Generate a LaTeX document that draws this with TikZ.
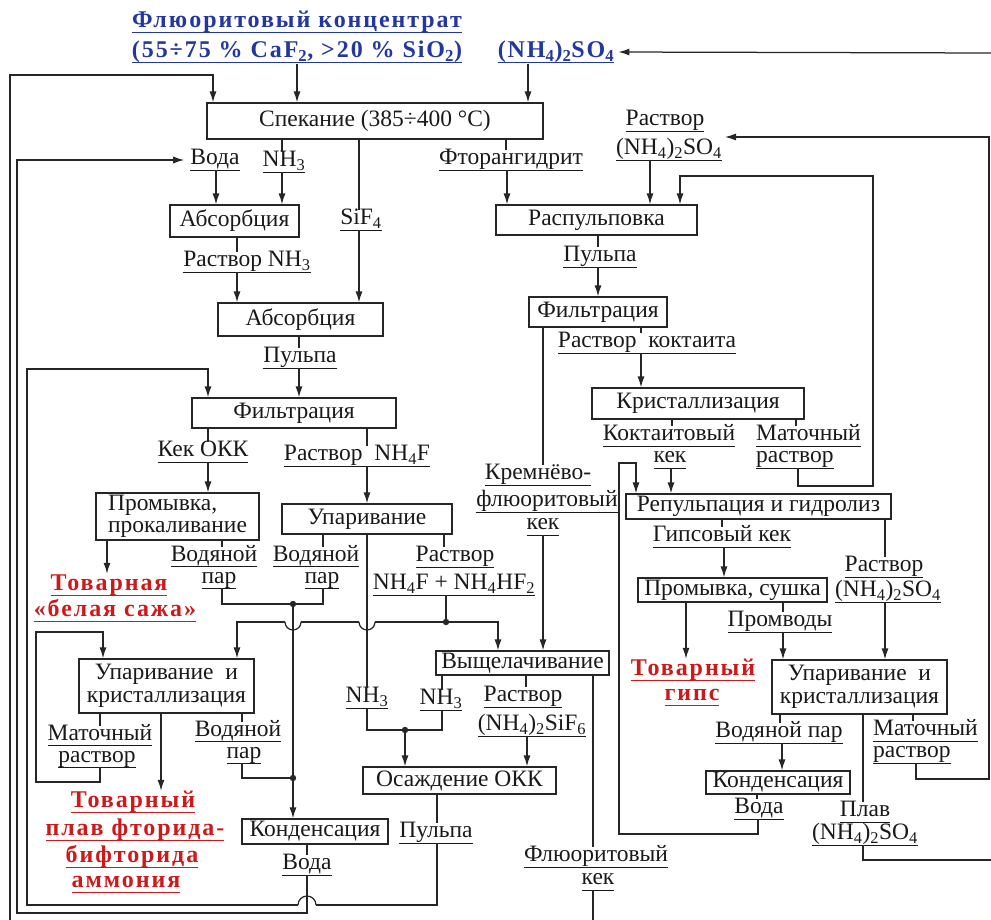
\documentclass[tikz,border=0pt]{standalone}
\usepackage{fontspec}
\setmainfont{Liberation Serif}
\usetikzlibrary{arrows.meta}
\newcommand\ssb[1]{\mbox{\textsubscript{#1}}}
\newsavebox\ulnbox
\newcommand\uline[1]{\sbox\ulnbox{#1}\leavevmode\rlap{\usebox\ulnbox}\rule[-6pt]{\wd\ulnbox}{1.1pt}}
\newcommand\fsz{\fontsize{23.5}{21}\selectfont}
\newcommand\bfsz{\fontsize{23.5}{22.5}\selectfont}
\newcommand\rfsz{\fontsize{24}{22}\selectfont\bfseries\addfontfeature{LetterSpace=8}}
\newcommand\tfsz{\fontsize{24}{22}\selectfont\bfseries\addfontfeature{LetterSpace=8}}
\definecolor{tred}{RGB}{205,25,25}
\definecolor{tblue}{RGB}{35,55,160}
\tikzset{
  box/.style={draw=black!85, line width=1.2pt, inner sep=0pt, font=\bfsz, text=black!90},
  lab/.style={inner sep=0pt, text height=14.5pt, text depth=5pt, font=\fsz, text=black!90},
  rlab/.style={inner sep=0pt, text height=16pt, text depth=6pt, font=\rfsz, text=tred},
  tlab/.style={inner sep=0pt, text height=17pt, text depth=6pt, font=\tfsz, text=tblue},
  ln/.style={draw=black!85, line width=1.25pt},
  arr/.style={ln, -{Latex[length=11pt,width=7pt]}},
  dotj/.style={fill=black!85}
}
\begin{document}
\begin{tikzpicture}[x=1pt,y=-1pt]
\useasboundingbox (0,0) rectangle (991,920);
% ---------- boxes ----------
\node[box,minimum width=336pt,minimum height=36pt] (spek) at (375,121) {Спекание (385÷400 °C)};
\node[box,minimum width=129pt,minimum height=32pt] (abs1) at (234.5,221) {Абсорбция};
\node[box,minimum width=165pt,minimum height=33pt] (abs2) at (300.5,319.5) {Абсорбция};
\node[box,minimum width=204pt,minimum height=30pt] (filtL) at (294,413) {Фильтрация};
\node[box,minimum width=163pt,minimum height=47pt,align=left] (prom) at (177.5,516.5) {Промывка,\\прокаливание};
\node[box,minimum width=170pt,minimum height=30pt] (upar) at (367,519) {Упаривание};
\node[box,minimum width=175pt,minimum height=54pt,align=center] (upkrL) at (166.5,686) {Упаривание\ \ и\\кристаллизация};
\node[box,minimum width=146pt,minimum height=25pt] (kondL) at (315,831.5) {Конденсация};
\node[box,minimum width=193pt,minimum height=27pt] (osazh) at (459.5,780.5) {Осаждение ОКК};
\node[box,minimum width=173pt,minimum height=24pt] (vysh) at (522.5,663) {Выщелачивание};
\node[box,minimum width=201pt,minimum height=30pt] (raspul) at (596.5,220) {Распульповка};
\node[box,minimum width=138pt,minimum height=30pt] (filtR) at (598,312) {Фильтрация};
\node[box,minimum width=212pt,minimum height=31pt] (krist) at (698,403.5) {Кристаллизация};
\node[box,minimum width=265pt,minimum height=25pt] (repul) at (758.5,506.5) {Репульпация и гидролиз};
\node[box,minimum width=189pt,minimum height=24pt] (promS) at (732.5,590) {Промывка, сушка};
\node[box,minimum width=175pt,minimum height=54pt,align=center] (upkrR) at (859.5,687) {Упаривание\ \ и\\кристаллизация};
\node[box,minimum width=144pt,minimum height=23pt] (kondR) at (778,782.5) {Конденсация};
% ---------- title labels ----------
\node[tlab] (T1) at (297,22) {\uline{Флюоритовый концентрат}};
\node[tlab] (T2) at (297,52) {\uline{(55÷75 \% CaF\ssb{2}, >20 \% SiO\ssb{2})}};
\node[tlab] (T3) at (556,52) {\uline{(NH\ssb{4})\ssb{2}SO\ssb{4}}};
% ---------- labels ----------
\node[lab] (voda1) at (215,160) {\uline{Вода}};
\node[lab] (nh3a) at (284,162) {\uline{NH\ssb{3}}};
\node[lab] (sif4) at (361,220) {\uline{SiF\ssb{4}}};
\node[lab] (ftor) at (511,160) {\uline{Фторангидрит}};
\node[lab] (rs1a) at (665,121) {\uline{Раствор}};
\node[lab] (rs1b) at (669,150) {\uline{(NH\ssb{4})\ssb{2}SO\ssb{4}}};
\node[lab] (rnh3) at (247,262) {\uline{Раствор NH\ssb{3}}};
\node[lab] (pulp1) at (300,358) {\uline{Пульпа}};
\node[lab] (pulp2) at (600,257) {\uline{Пульпа}};
\node[lab] (kekokk) at (203,452) {\uline{Кек ОКК}};
\node[lab] (rnh4f) at (357,456) {\uline{Раствор\ \ NH\ssb{4}F}};
\node[lab] (rkokt) at (647,343) {\uline{Раствор\ \ коктаита}};
\node[lab] (koktA) at (669,436) {\uline{Коктаитовый}};
\node[lab] (koktB) at (670,458) {\uline{кек}};
\node[lab,anchor=west] (matA) at (756,436) {\uline{Маточный}};
\node[lab,anchor=west] (matB) at (756,458) {\uline{раствор}};
\node[lab] (kremA) at (538,475) {\uline{Кремнёво-}};
\node[lab] (kremB) at (547,502) {\uline{флюоритовый}};
\node[lab] (kremC) at (543,525) {\uline{кек}};
\node[lab] (vp1a) at (214,556.5) {\uline{Водяной}};
\node[lab] (vp1b) at (219,578.5) {\uline{пар}};
\node[lab] (vp2a) at (316,556.5) {\uline{Водяной}};
\node[lab] (vp2b) at (322,578.5) {\uline{пар}};
\node[lab] (rfA) at (455,557) {\uline{Раствор}};
\node[lab] (rfB) at (454,585) {\uline{NH\ssb{4}F + NH\ssb{4}HF\ssb{2}}};
\node[lab] (gips) at (722,537) {\uline{Гипсовый кек}};
\node[lab] (rs2a) at (884,567) {\uline{Раствор}};
\node[lab] (rs2b) at (888,592) {\uline{(NH\ssb{4})\ssb{2}SO\ssb{4}}};
\node[lab] (promv) at (780,622) {\uline{Промводы}};
\node[lab] (nh3b) at (367,698) {\uline{NH\ssb{3}}};
\node[lab] (nh3c) at (441,700) {\uline{NH\ssb{3}}};
\node[lab] (rsif1) at (523,697) {\uline{Раствор}};
\node[lab] (rsif2) at (532,726) {\uline{(NH\ssb{4})\ssb{2}SiF\ssb{6}}};
\node[lab] (matL1) at (100,735.5) {\uline{Маточный}};
\node[lab] (matL2) at (97,757.5) {\uline{раствор}};
\node[lab] (vp3a) at (238,731.5) {\uline{Водяной}};
\node[lab] (vp3b) at (244,753.5) {\uline{пар}};
\node[lab] (vpR) at (779,733) {\uline{Водяной пар}};
\node[lab,anchor=west] (matR1) at (873,731) {\uline{Маточный}};
\node[lab,anchor=west] (matR2) at (873,753) {\uline{раствор}};
\node[lab] (plav1) at (865,812) {\uline{Плав}};
\node[lab] (plav2) at (865,835) {\uline{(NH\ssb{4})\ssb{2}SO\ssb{4}}};
\node[lab] (vodaR) at (759,809) {\uline{Вода}};
\node[lab] (pulp3) at (436,833) {\uline{Пульпа}};
\node[lab] (vodaL) at (307,865) {\uline{Вода}};
\node[lab] (fkA) at (596,857) {\uline{Флюоритовый}};
\node[lab] (fkB) at (598,880) {\uline{кек}};
% ---------- red product labels ----------
\node[rlab] (tov1) at (109,585) {\uline{Товарная}};
\node[rlab] (tov2) at (115,611) {\uline{«белая сажа»}};
\node[rlab] (tg1) at (693,670) {\uline{Товарный}};
\node[rlab] (tg2) at (692,695) {\uline{гипс}};
\node[rlab] (tp1) at (133,802) {\uline{Товарный}};
\node[rlab] (tp2) at (135,830) {\uline{плав фторида-}};
\node[rlab] (tp3) at (132,857) {\uline{бифторида}};
\node[rlab] (tp4) at (126,882) {\uline{аммония}};
% ---------- coordinates ----------
\coordinate (botA) at (10,920);
\coordinate (botF) at (593,920);
\coordinate (rtop) at (991,53);
\coordinate (rbot) at (991,860);
\coordinate (rsin) at (725,137);
\coordinate (j1) at (293,604);
\coordinate (j2) at (293,778);
\coordinate (j3) at (405,730);
\coordinate (j4) at (446,622);
% ---------- connectors: top ----------
\draw[arr] (T2.south) -- (spek.north -| T2.south);
\draw[arr] (T3.south -| 528,0) -- (spek.north -| 528,0);
\draw[arr,shorten >=4pt] (rtop) -- (T3.east);
\draw[arr] (botA) -- (10,75) -- (213,75) -- (spek.north -| 213,0);
% left column
\draw[ln] (spek.south -| 282,0) -- (nh3a.north -| 282,0);
\draw[arr] (nh3a.south -| 282,0) -- (abs1.north -| 282,0);
\draw[arr] (voda1.south -| 216,0) -- (abs1.north -| 216,0);
\draw[ln] (spek.south -| 359,0) -- (sif4.north -| 359,0);
\draw[arr] (sif4.south -| 359,0) -- (abs2.north -| 359,0);
\draw[ln] (abs1.south -| 237,0) -- (rnh3.north -| 237,0);
\draw[arr] (rnh3.south -| 237,0) -- (abs2.north -| 237,0);
\draw[ln] (abs2.south -| 299,0) -- (pulp1.north -| 299,0);
\draw[arr] (pulp1.south -| 299,0) -- (filtL.north -| 299,0);
\draw[ln] (filtL.south -| 208,0) -- (kekokk.north -| 208,0);
\draw[arr] (kekokk.south -| 208,0) -- (prom.north -| 208,0);
\draw[ln] (filtL.south -| 367,0) -- (rnh4f.north -| 367,0);
\draw[arr] (rnh4f.south -| 367,0) -- (upar.north -| 367,0);
\draw[arr] (prom.south -| 107,0) -- (tov1.north -| 107,0);
\draw[ln] (prom.south -| 222,0) -- (vp1a.north -| 222,0);
\draw[ln] (vp1b.south -| 222,0) -- (222,604) -- (323,604) -- (vp2b.south -| 323,0);
\draw[ln] (upar.south -| 323,0) -- (vp2a.north -| 323,0);
\fill[dotj] (j1) circle (3.2pt);
\draw[arr] (j1) -- (kondL.north -| j1);
\draw[ln] (upkrL.south -| 242,0) -- (vp3a.north -| 242,0);
\draw[ln] (vp3b.south -| 242,0) -- (242,778) -- (j2);
\fill[dotj] (j2) circle (3.2pt);
\draw[ln] (upar.south -| 367,0) -- (nh3b.north -| 367,0);
\draw[ln] (nh3b.south -| 367,0) -- (367,730) -- (442,730) -- (nh3c.south -| 442,0);
\draw[ln] (vysh.south -| 442,0) -- (nh3c.north -| 442,0);
\fill[dotj] (j3) circle (3.2pt);
\draw[arr] (j3) -- (osazh.north -| j3);
\draw[ln] (upar.south -| 444,0) -- (rfA.north -| 444,0);
\draw[ln] (rfB.south -| 446,0) -- (j4);
\fill[dotj] (j4) circle (3.2pt);
\draw[arr] (j4) -- (498,622) -- (vysh.north -| 498,0);
% horizontal with two bridges (dips)
\draw[ln] (j4) -- (375,622);
\draw[ln] (375,622) arc[start angle=0,end angle=-180,radius=8pt];
\draw[ln] (359,622) -- (301,622);
\draw[ln] (301,622) arc[start angle=0,end angle=-180,radius=8pt];
\draw[arr] (285,622) -- (237,622) -- (upkrL.north -| 237,0);
\draw[ln] (upkrL.south -| 100,0) -- (matL1.north -| 100,0);
\draw[arr] (matL2.south -| 100,0) -- (100,782) -- (36,782) -- (36,632) -- (103,632) -- (upkrL.north -| 103,0);
\draw[arr] (upkrL.south -| 161,0) -- (tp1.north -| 161,0);
\draw[ln] (kondL.south -| 307,0) -- (vodaL.north -| 307,0);
\draw[arr,shorten >=6pt] (vodaL.south -| 307,0) -- (307,913) -- (17,913) -- (17,160) -- (voda1.west);
\draw[ln] (osazh.south -| 437,0) -- (pulp3.north -| 437,0);
% bottom return with one bridge (hump)
\draw[ln] (pulp3.south -| 437,0) -- (437,905) -- (316,905);
\draw[ln] (316,905) arc[start angle=0,end angle=180,radius=9pt];
\draw[arr] (298,905) -- (27,905) -- (27,369) -- (208,369) -- (filtL.north -| 208,0);
\draw[ln] (vysh.south -| 526,0) -- (rsif1.north -| 526,0);
\draw[arr] (rsif2.south -| 527,0) -- (osazh.north -| 527,0);
\draw[ln] (vysh.south -| 593,0) -- (fkA.north -| 593,0);
\draw[ln] (fkB.south -| 593,0) -- (botF);
% right column
\draw[ln] (spek.south -| 506,0) -- (ftor.north -| 506,0);
\draw[arr] (ftor.south -| 507,0) -- (raspul.north -| 507,0);
\draw[arr] (rs1b.south -| 650,0) -- (raspul.north -| 650,0);
\draw[ln] (raspul.south -| 598,0) -- (pulp2.north -| 598,0);
\draw[arr] (pulp2.south -| 598,0) -- (filtR.north -| 598,0);
\draw[ln] (filtR.south -| 543,0) -- (kremA.north -| 543,0);
\draw[arr] (kremC.south -| 543,0) -- (vysh.north -| 543,0);
\draw[ln] (filtR.south -| 641,0) -- (rkokt.north -| 641,0);
\draw[arr] (rkokt.south -| 641,0) -- (krist.north -| 641,0);
\draw[ln] (krist.south -| 672,0) -- (koktA.north -| 672,0);
\draw[arr] (koktB.south -| 671,0) -- (repul.north -| 671,0);
\draw[ln] (krist.south -| 796,0) -- (matA.north -| 796,0);
\draw[arr] (matB.south -| 798,0) -- (798,486) -- (873,486) -- (873,176) -- (680,176) -- (raspul.north -| 680,0);
\draw[ln] (repul.south -| 722,0) -- (gips.north -| 722,0);
\draw[arr] (gips.south -| 724,0) -- (promS.north -| 724,0);
\draw[ln] (repul.south -| 885,0) -- (rs2a.north -| 885,0);
\draw[arr] (rs2b.south -| 885,0) -- (upkrR.north -| 885,0);
\draw[arr] (promS.south -| 686,0) -- (tg1.north -| 686,0);
\draw[ln] (promS.south -| 783,0) -- (promv.north -| 783,0);
\draw[arr] (promv.south -| 783,0) -- (upkrR.north -| 783,0);
\draw[ln] (upkrR.south -| 780,0) -- (vpR.north -| 780,0);
\draw[arr] (vpR.south -| 782,0) -- (kondR.north -| 782,0);
\draw[ln] (kondR.south -| 757,0) -- (vodaR.north -| 757,0);
\draw[arr] (vodaR.south -| 758,0) -- (758,834) -- (619,834) -- (619,463) -- (636,463) -- (repul.north -| 636,0);
\draw[ln] (upkrR.south -| 863,0) -- (plav1.north -| 863,0);
\draw[ln] (plav2.south -| 863,0) -- (863,860) -- (rbot);
\draw[ln] (upkrR.south -| 913,0) -- (matR1.north -| 913,0);
\draw[arr] (matR2.south -| 916,0) -- (916,779) -- (989,779) -- (989,137) -- (rsin);
\end{tikzpicture}
\end{document}
